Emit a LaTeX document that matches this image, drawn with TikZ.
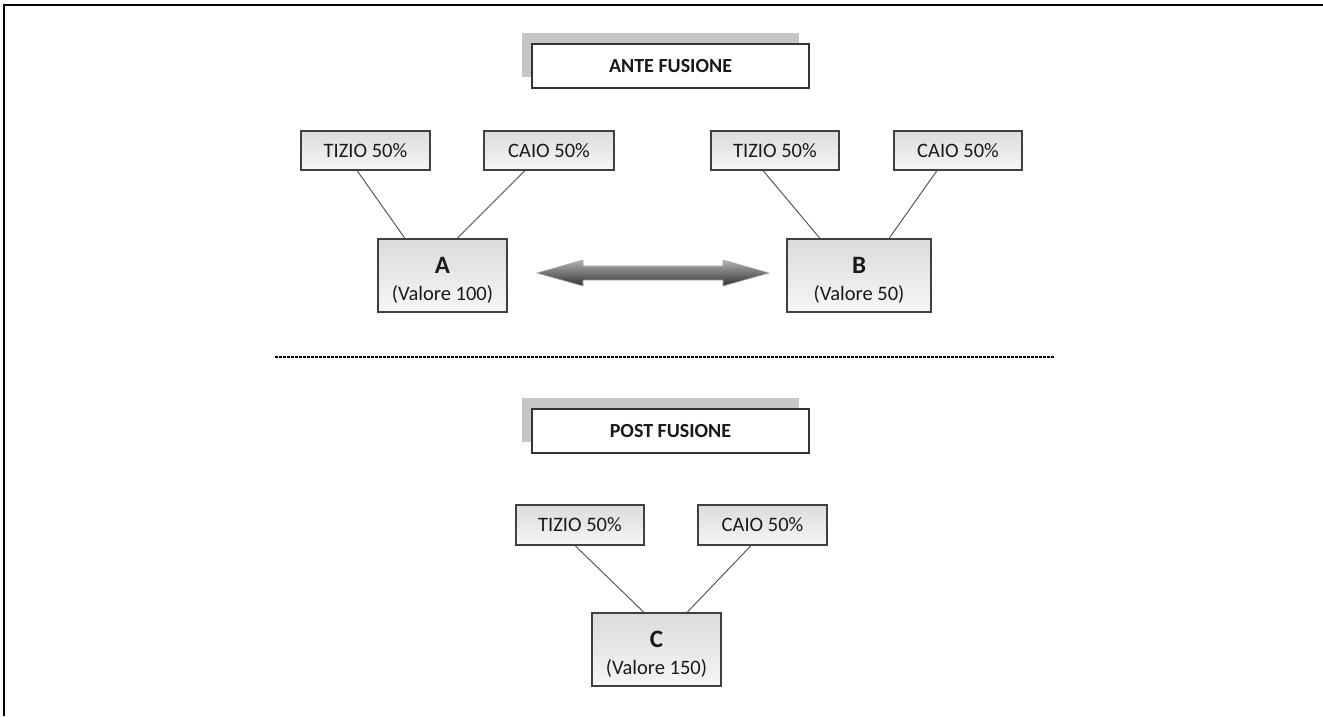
\documentclass[tikz,border=0pt]{standalone}
\usepackage{fontspec}
\setmainfont{Carlito}
\usetikzlibrary{calc}
\begin{document}
\begin{tikzpicture}[x=1pt,y=-1pt,
  pbox/.style={draw=black!75, line width=1.1pt, top color=gray!28, bottom color=gray!7,
    inner sep=0pt, font=\fontsize{20.5}{24}\selectfont, text=black!90},
  titlebox/.style={draw=black!80, line width=1.2pt, fill=white, inner sep=0pt,
    minimum width=277pt, minimum height=44pt, font=\fontsize{20}{24}\selectfont\bfseries, text=black!90},
  shadowbox/.style={fill=gray!45, draw=none, inner sep=0pt, minimum width=277pt, minimum height=44pt},
  valtext/.style={align=center, inner sep=0pt, font=\fontsize{20.5}{27}\selectfont, text=black!90},
  link/.style={draw=black!70, line width=0.9pt}]
\useasboundingbox (0,0) rectangle (1323,716);
% frame
\draw[line width=2pt] (4,716) -- (4,5) -- (1323,5);

% titles
\node[shadowbox] (antesh) at (660.5,55) {};
\node[titlebox] (ante) at (670.5,66) {ANTE FUSIONE};
\node[shadowbox] (postsh) at (660.5,419.5) {};
\node[titlebox] (post) at (670.5,431) {POST FUSIONE};

% ante: A
\node[pbox, minimum width=129pt, minimum height=39pt] (t1) at (365.5,150.5) {TIZIO 50\%};
\node[pbox, minimum width=130pt, minimum height=39pt] (c1) at (549,150.5) {CAIO 50\%};
\node[pbox, minimum width=129pt, minimum height=73pt] (A) at (442.5,275.5) {};
\node[valtext] (Atext) at ([yshift=-5pt]A.center) {{\fontsize{25}{27}\selectfont\bfseries A}\\(Valore 100)};
\draw[link] ([xshift=-8.5pt]t1.south) -- ([xshift=-37.5pt]A.north);
\draw[link] ([xshift=-24pt]c1.south) -- ([xshift=14.5pt]A.north);

% ante: B
\node[pbox, minimum width=128pt, minimum height=39pt] (t2) at (775,150.5) {TIZIO 50\%};
\node[pbox, minimum width=128pt, minimum height=39pt] (c2) at (958,150.5) {CAIO 50\%};
\node[pbox, minimum width=144pt, minimum height=73pt] (B) at (859,275.5) {};
\node[valtext] (Btext) at ([yshift=-5pt]B.center) {{\fontsize{25}{27}\selectfont\bfseries B}\\(Valore 50)};
\draw[link] ([xshift=-12pt]t2.south) -- ([xshift=-39pt]B.north);
\draw[link] ([xshift=-21pt]c2.south) -- ([xshift=30pt]B.north);

% double arrow
\shade[top color=gray!60, bottom color=black!80, draw=gray!70, line width=0.6pt]
  (537,273) -- (583,260) -- (583,266) -- (723,266) -- (723,260) -- (769,273)
  -- (723,286) -- (723,280) -- (583,280) -- (583,286) -- cycle;

% separator
\coordinate (sepL) at (275,357);
\coordinate (sepR) at (1055,357);
\draw[line width=2.4pt, black, dash pattern=on 3pt off 1pt] (sepL) -- (sepR);

% post: C
\node[pbox, minimum width=128pt, minimum height=40pt] (t3) at (580,525) {TIZIO 50\%};
\node[pbox, minimum width=129pt, minimum height=40pt] (c3) at (762.5,525) {CAIO 50\%};
\node[pbox, minimum width=129pt, minimum height=73pt] (C) at (656.5,649.5) {};
\node[valtext] (Ctext) at ([yshift=-5pt]C.center) {{\fontsize{25}{27}\selectfont\bfseries C}\\(Valore 150)};
\draw[link] ([xshift=-5pt]t3.south) -- ([xshift=-12.5pt]C.north);
\draw[link] ([xshift=-11.5pt]c3.south) -- ([xshift=30.5pt]C.north);
\end{tikzpicture}
\end{document}
